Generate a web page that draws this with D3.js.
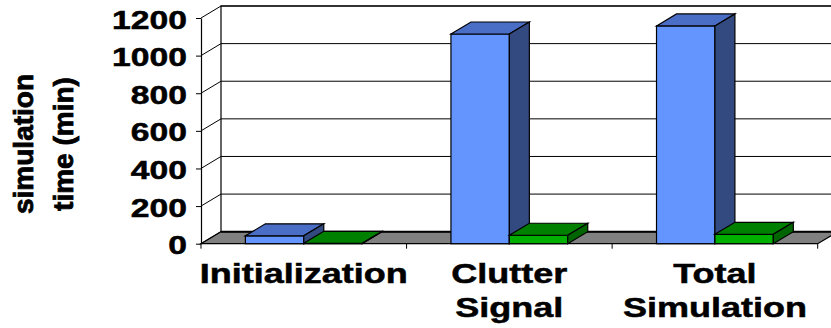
<!DOCTYPE html>
<html>
<head>
<meta charset="utf-8">
<script src="https://cdn.jsdelivr.net/npm/d3@7"></script>
<style>
  body { margin: 0; background: #fff; }
  text { font-family: "Liberation Sans", Arial, sans-serif; font-weight: bold; fill: #000; stroke: #000; stroke-width: 0.5px; }
</style>
</head>
<body>
<div id="chart"></div>
<script>
// data
const categories = [["Initialization"], ["Clutter", "Signal"], ["Total", "Simulation"]];
const seriesNames = ["s1", "s2"];
const blueValues = [42, 1115, 1158];
const greenValues = [2, 45, 50];
const yTicks = [0, 200, 400, 600, 800, 1000, 1200];

const width = 831;
const height = 328;
// depth offset of the 3d box
const dx = 20, dy = -12;

const svg = d3.select("#chart").append("svg")
    .attr("width", width)
    .attr("height", height);

const catKeys = categories.map(c => c.join(" "));

// scales
const x0 = d3.scaleBand().domain(catKeys).range([201, 817.7]).padding(0);
const x1 = d3.scaleBand().domain(seriesNames).range([0, x0.bandwidth()])
    .paddingInner(0).paddingOuter(0.76);
const y = d3.scaleLinear().domain([0, 1200]).range([243.7, 18]);

const left = x0.range()[0], right = x0.range()[1];
const y0 = y(0);

// back wall
svg.append("rect")
    .attr("x", left + dx).attr("y", y(1200) + dy)
    .attr("width", right - left).attr("height", y0 - y(1200))
    .attr("fill", "#fff").attr("stroke", "#000").attr("stroke-width", 1.2);

// gridlines on the back wall + side wall diagonals
svg.append("g").selectAll("line")
    .data(yTicks.filter(d => d > 0))
    .join("line")
    .attr("x1", left + dx).attr("x2", right + dx)
    .attr("y1", d => y(d) + dy).attr("y2", d => y(d) + dy)
    .attr("stroke", "#000").attr("stroke-width", 1);

svg.append("g").selectAll("line")
    .data(yTicks)
    .join("line")
    .attr("x1", left).attr("x2", left + dx)
    .attr("y1", d => y(d)).attr("y2", d => y(d) + dy)
    .attr("stroke", "#000").attr("stroke-width", 1);

// floor
svg.append("path")
    .attr("d", `M${left},${y0}L${right},${y0}L${right + dx},${y0 + dy}L${left + dx},${y0 + dy}Z`)
    .attr("fill", "#808080").attr("stroke", "#000").attr("stroke-width", 1.2);
svg.append("line")
    .attr("x1", left + dx).attr("x2", right + dx)
    .attr("y1", y0 + dy).attr("y2", y0 + dy)
    .attr("stroke", "#000").attr("stroke-width", 2);

// y axis
const tsx = 1.32;
const yAxis = d3.axisLeft(y).tickValues(yTicks).tickFormat(d3.format("d"))
    .tickSize(5).tickSizeOuter(0);
const ya = svg.append("g")
    .attr("transform", `translate(${left},0)`)
    .call(yAxis);
ya.select(".domain").attr("stroke", "#000").attr("stroke-width", 1.2);
ya.selectAll(".tick line").attr("stroke", "#000");
ya.selectAll(".tick text")
    .attr("x", -14 / tsx)
    .attr("dy", 10)
    .attr("transform", `scale(${tsx},1)`)
    .attr("fill", "#000")
    .style("font-size", "25.5px")
    .style("font-family", '"Liberation Sans", Arial, sans-serif')
    .style("font-weight", "bold");

// x axis ticks at category boundaries
const bounds = catKeys.map(c => x0(c)).concat([right]);
svg.append("g").selectAll("line")
    .data(bounds)
    .join("line")
    .attr("x1", d => d).attr("x2", d => d)
    .attr("y1", y0).attr("y2", y0 + 5)
    .attr("stroke", "#000");

// bars
const faces = {
    s1: { front: "#6495FF", top: "#4A6DC6", side: "#334A80" },
    s2: { front: "#00B000", top: "#008000", side: "#006400" }
};
const rows = [];
catKeys.forEach((c, i) => {
    rows.push({ cat: c, key: "s1", value: blueValues[i] });
    rows.push({ cat: c, key: "s2", value: greenValues[i] });
});

const bar = svg.append("g").selectAll("g")
    .data(rows)
    .join("g");

bar.each(function (d) {
    const g = d3.select(this);
    const xa = x0(d.cat) + x1(d.key);
    const w = x1.bandwidth();
    const yt = y(d.value);
    const col = faces[d.key];
    g.append("rect")
        .attr("x", xa).attr("y", yt)
        .attr("width", w).attr("height", y0 - yt)
        .attr("fill", col.front).attr("stroke", "#000").attr("stroke-width", 1.2);
    g.append("path")
        .attr("d", `M${xa},${yt}L${xa + dx},${yt + dy}L${xa + w + dx},${yt + dy}L${xa + w},${yt}Z`)
        .attr("fill", col.top).attr("stroke", "#000").attr("stroke-width", 1.2);
    g.append("path")
        .attr("d", `M${xa + w},${yt}L${xa + w + dx},${yt + dy}L${xa + w + dx},${y0 + dy}L${xa + w},${y0}Z`)
        .attr("fill", col.side).attr("stroke", "#000").attr("stroke-width", 1.2);
});

// category labels
const csx = 1.31;
const catLabel = svg.append("g").selectAll("g")
    .data(categories)
    .join("g")
    .attr("transform", (d, i) => `translate(${x0(catKeys[i]) + x0.bandwidth() / 2},283.3) scale(${csx},1)`);
catLabel.append("text")
    .attr("text-anchor", "middle")
    .style("font-size", "27.5px")
    .selectAll("tspan")
    .data(d => d)
    .join("tspan")
    .attr("x", 0)
    .attr("y", (d, i) => i * 34)
    .text(d => d);

// y title
const title = svg.append("text")
    .attr("transform", "translate(0,144) rotate(-90)")
    .attr("text-anchor", "middle")
    .style("font-size", "28px")
    .style("stroke-width", "0.8px");
title.append("tspan").attr("x", 0).attr("y", 33).text("simulation");
title.append("tspan").attr("x", 0).attr("y", 73).text("time (min)");
</script>
</body>
</html>
